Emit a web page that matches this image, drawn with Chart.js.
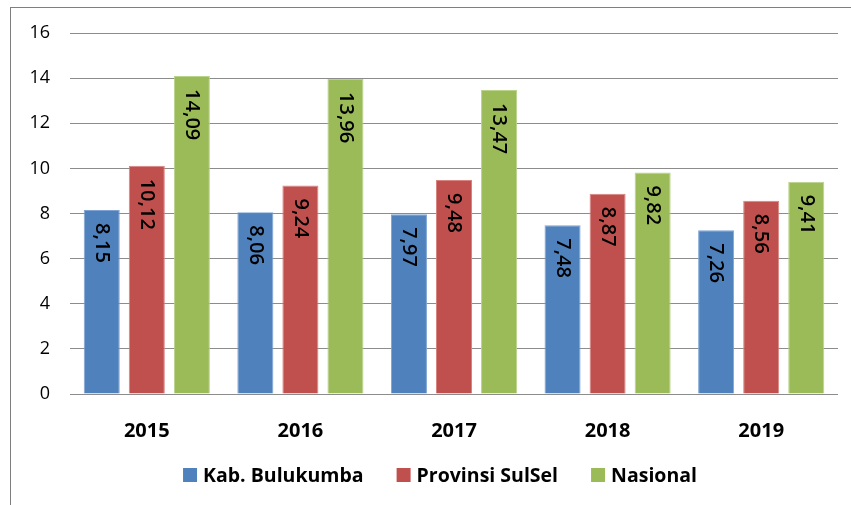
<!DOCTYPE html>
<html>
<head>
<meta charset="utf-8">
<script src="https://cdn.jsdelivr.net/npm/chart.js@4/dist/chart.umd.min.js"></script>
<style>
  body { margin: 0; background: #fff; overflow: hidden; }
  #wrap { position: relative; width: 851px; height: 505px; }
  #frame { position: absolute; left: 10px; top: 7px; width: 900px; height: 600px; border-left: 1px solid #7f7f7f; border-top: 1.5px solid #7f7f7f; }
  canvas { position: absolute; left: 0; top: 0; }
</style>
</head>
<body>
<div id="wrap">
  <div id="frame"></div>
  <canvas id="grafico" width="851" height="505"></canvas>
</div>
<script>
const tahun = ["2015", "2016", "2017", "2018", "2019"];
const bulukumba = [8.15, 8.06, 7.97, 7.48, 7.26];
const sulsel = [10.12, 9.24, 9.48, 8.87, 8.56];
const nasional = [14.09, 13.96, 13.47, 9.82, 9.41];
const nama_seri = ["Kab. Bulukumba", "Provinsi SulSel", "Nasional"];
const warna = ["#4f81bd", "#c0504d", "#9bbb59"];
const warna_tepi = ["#7ea3d3", "#d98481", "#b9d38a"];

const fuente = "'Open Sans', 'Liberation Sans', sans-serif";

// label angka di dalam batang, diputar 90 derajat
const labelBatang = {
  id: "labelBatang",
  afterDatasetsDraw(chart) {
    const ctx = chart.ctx;
    ctx.save();
    ctx.font = "600 20px " + fuente;
    ctx.fillStyle = "#000";
    ctx.textAlign = "left";
    ctx.textBaseline = "middle";
    chart.data.datasets.forEach((ds, i) => {
      chart.getDatasetMeta(i).data.forEach((bar, j) => {
        let teks = ds.data[j].toFixed(2).replace(".", ",");
        ctx.save();
        ctx.translate(bar.x, bar.y + 13);
        ctx.rotate(Math.PI / 2);
        ctx.fillText(teks, 0, 0);
        ctx.restore();
      });
    });
    ctx.restore();
  }
};

// legenda manual di bawah
const legenda = {
  id: "legenda",
  afterDraw(chart) {
    const ctx = chart.ctx;
    ctx.save();
    ctx.font = "bold 19.5px " + fuente;
    ctx.textBaseline = "middle";
    ctx.textAlign = "left";
    let kotak = 14, jarak = 6, antar = 33;
    let lebar = 0;
    chart.data.datasets.forEach((ds, i) => {
      lebar += kotak + jarak + ctx.measureText(ds.label).width;
      if (i > 0) lebar += antar;
    });
    let x = 440 - lebar / 2;
    let y = 475;
    chart.data.datasets.forEach((ds) => {
      ctx.fillStyle = ds.backgroundColor;
      ctx.fillRect(x, y - kotak / 2, kotak, kotak);
      x += kotak + jarak;
      ctx.fillStyle = "#000";
      ctx.fillText(ds.label, x, y + 1);
      x += ctx.measureText(ds.label).width + antar;
    });
    ctx.restore();
  }
};

const seri = [bulukumba, sulsel, nasional];

new Chart(document.getElementById("grafico"), {
  type: "bar",
  data: {
    labels: tahun,
    datasets: seri.map((d, i) => ({
      label: nama_seri[i],
      data: d,
      backgroundColor: warna[i],
      borderColor: warna_tepi[i],
      borderWidth: 1,
      categoryPercentage: 0.88,
      barPercentage: 0.8
    }))
  },
  options: {
    responsive: false,
    animation: false,
    layout: { padding: { top: 33, right: 13, left: 0, bottom: 0 } },
    plugins: {
      legend: { display: false },
      title: { display: false },
      tooltip: { enabled: false }
    },
    scales: {
      x: {
        grid: { display: false },
        border: { display: false },
        ticks: { color: "#000", font: { family: fuente, size: 20, weight: "bold" }, padding: 17 },
        afterFit(scale) { scale.height = 111; }
      },
      y: {
        min: 0,
        max: 16,
        border: { display: false },
        grid: { color: "#8c8c8c", lineWidth: 1, drawTicks: false },
        ticks: { stepSize: 2, color: "#000", font: { family: fuente, size: 18 }, padding: 20 },
        afterFit(scale) { scale.width = 70; }
      }
    }
  },
  plugins: [labelBatang, legenda]
});
</script>
</body>
</html>
